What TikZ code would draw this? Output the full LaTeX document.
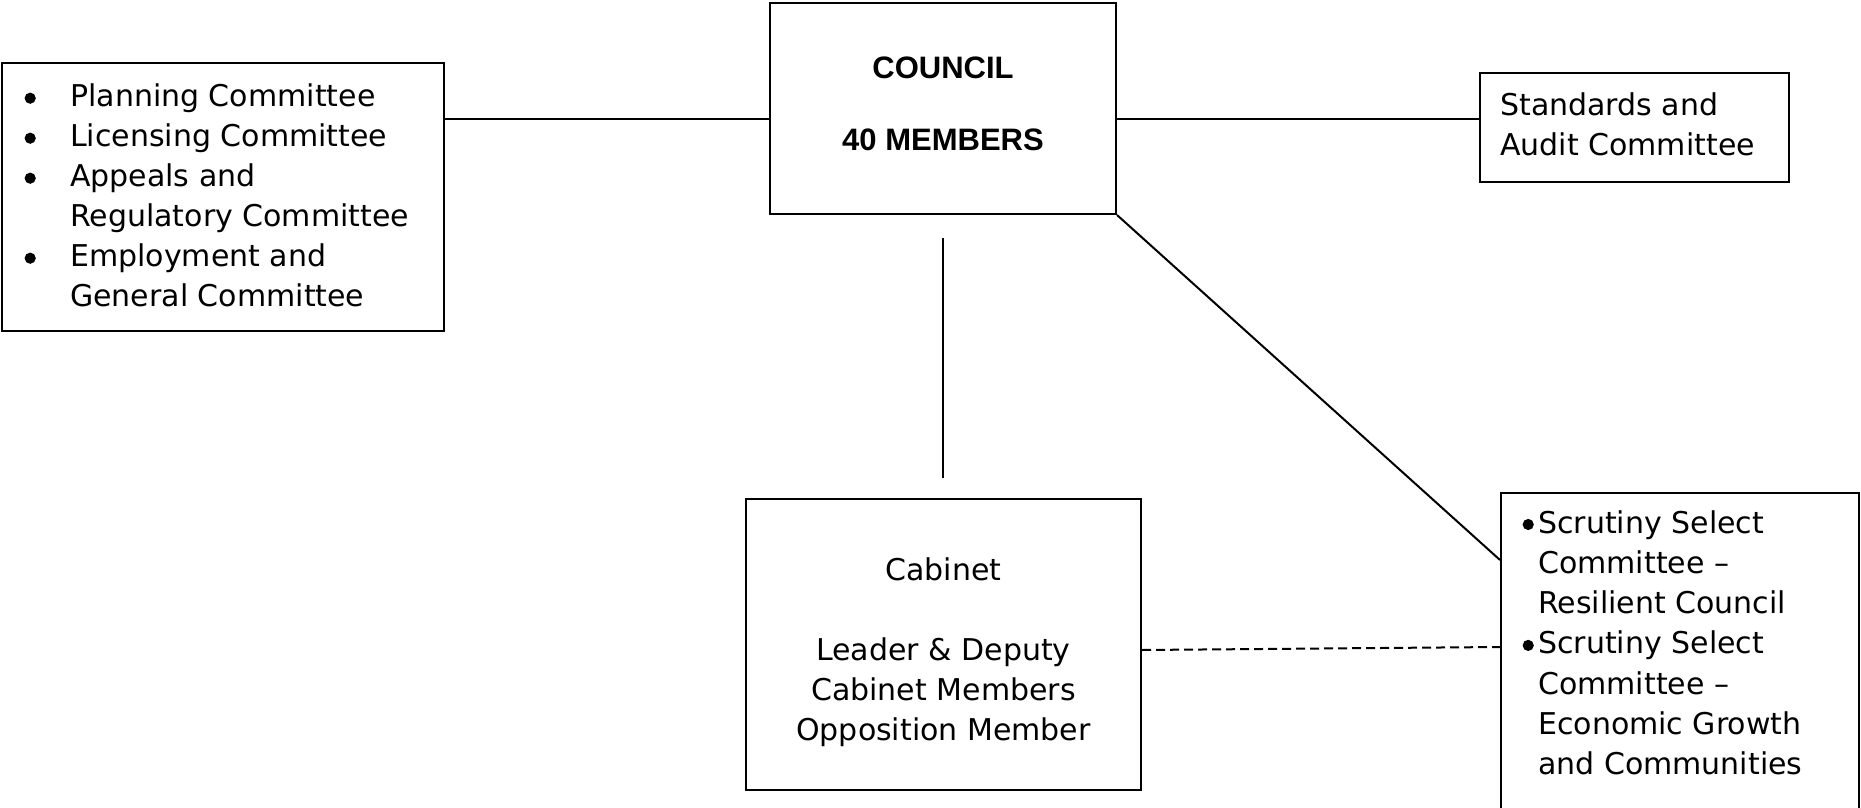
\documentclass[tikz,border=0pt]{standalone}
\usepackage{fontspec}
\setmainfont{DejaVu Sans}
\newfontfamily\headfont{Liberation Sans}
\newcommand\bdot{\tikz[baseline={(0pt,-8.5pt)}]\fill (0pt,0pt) circle (5.6pt);}
\newcommand\lbul{\makebox[60pt][l]{\makebox[40pt]{\bdot}}}
\newcommand\sbul{\makebox[20pt]{\bdot}}
\begin{document}
\begin{tikzpicture}[x=1pt,y=-1pt,
  box/.style={draw, line width=2pt, rectangle, inner sep=0pt},
  conn/.style={line width=2pt},
  txt/.style={inner sep=0pt, font=\fontsize{30}{40}\selectfont}]
\clip (0,0) rectangle (1861,808);
\fill[white] (0,0) rectangle (1861,808);
% boxes
\node[box, minimum width=442pt, minimum height=268pt] (left) at (223,197) {};
\node[box, minimum width=346pt, minimum height=211pt] (council) at (943,108.5) {};
\node[box, minimum width=309pt, minimum height=109pt] (standards) at (1634.5,127.5) {};
\node[box, minimum width=395pt, minimum height=291pt] (cabinet) at (943.5,644.5) {};
\node[box, minimum width=358pt, minimum height=360pt] (scrutiny) at (1680,673) {};
% texts
\node[txt, anchor=base west] (lefttext) at (10,106.7) {\begin{tabular}[t]{@{}l@{}l@{}}
\lbul & Planning Committee\\
\lbul & Licensing Committee\\
\lbul & Appeals and\\
\makebox[60pt]{} & Regulatory Committee\\
\lbul & Employment and\\
\makebox[60pt]{} & General Committee
\end{tabular}};
\node[txt, anchor=base, font=\headfont\bfseries\fontsize{31}{40}\selectfont] (counciltext) at (943,78) {\begin{tabular}[t]{@{}c@{}}COUNCIL\\[32pt]40 MEMBERS\end{tabular}};
\node[txt, anchor=base west] (standardstext) at (1500,115) {\begin{tabular}[t]{@{}l@{}}Standards and\\Audit Committee\end{tabular}};
\node[txt, anchor=base] (cabinettext) at (943.5,580) {\begin{tabular}[t]{@{}c@{}}Cabinet\\ \\Leader \& Deputy\\Cabinet Members\\Opposition Member\end{tabular}};
\node[txt, anchor=base west, font=\fontsize{30}{40.3}\selectfont] (scrutinytext) at (1518,533) {\begin{tabular}[t]{@{}l@{}l@{}}
\sbul & Scrutiny Select\\
\makebox[20pt]{} & Committee –\\
 & Resilient Council\\
\sbul & Scrutiny Select\\
 & Committee –\\
 & Economic Growth\\
 & and Communities
\end{tabular}};
% connectors
\coordinate (hy) at (0,119);
\coordinate (v1) at (943,238);
\coordinate (v2) at (943,478);
\coordinate (dy1) at (0,650);
\coordinate (dy2) at (0,647);
\coordinate (sy) at (0,560);
\draw[conn] (left.east |- hy) -- (council.west |- hy);
\draw[conn] (council.east |- hy) -- (standards.west |- hy);
\draw[conn] (v1) -- (v2);
\draw[conn] (council.south east) -- (scrutiny.west |- sy);
\draw[conn, dash pattern=on 9pt off 5pt] (cabinet.east |- dy1) -- (scrutiny.west |- dy2);
\end{tikzpicture}
\end{document}
